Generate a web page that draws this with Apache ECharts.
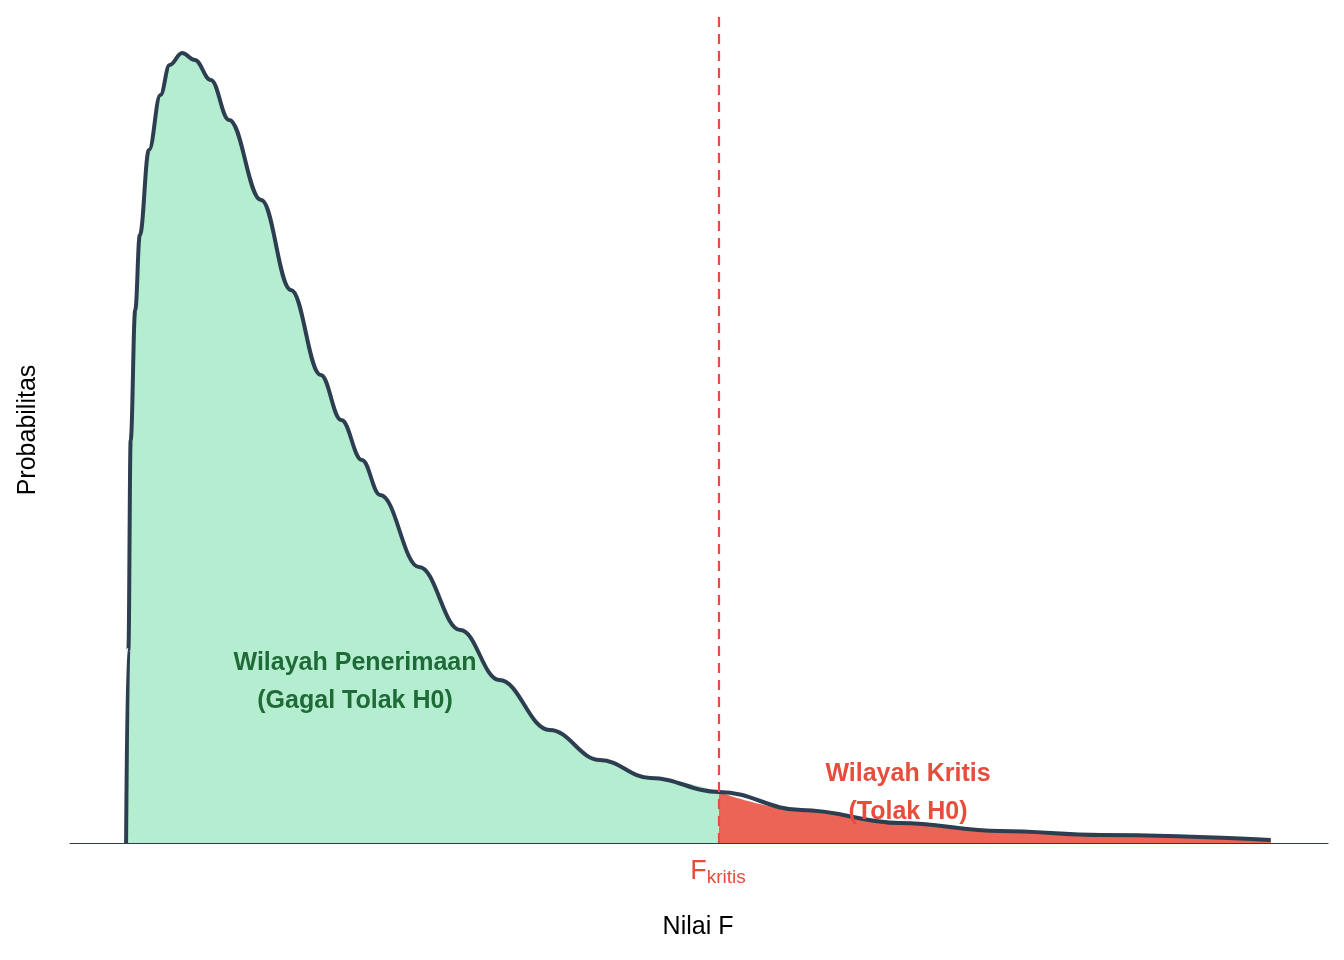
<!DOCTYPE html>
<html>
<head>
<meta charset="utf-8">
<title>Distribusi F</title>
<script src="https://cdn.jsdelivr.net/npm/echarts@6/dist/echarts.min.js"></script>
<style>
  html, body { margin: 0; padding: 0; background: #fff; }
  #chart { width: 1344px; height: 960px; }
</style>
</head>
<body>
<div id="chart"></div>
<script>
// nilai F dan kepadatan
var fValues = [0, 0.01, 0.02, 0.04, 0.06, 0.10, 0.15, 0.19, 0.245, 0.30, 0.37, 0.45, 0.59, 0.72, 0.85, 0.94, 1.03, 1.11, 1.28, 1.46, 1.63, 1.85, 2.07, 2.29, 2.59, 2.95, 3.38, 3.82, 4.26, 5.0];
var density = [0, 0.193, 0.403, 0.533, 0.608, 0.693, 0.748, 0.778, 0.790, 0.783, 0.763, 0.723, 0.643, 0.553, 0.468, 0.423, 0.383, 0.348, 0.276, 0.213, 0.163, 0.113, 0.083, 0.065, 0.051, 0.033, 0.020, 0.012, 0.008, 0.003];
var fKritis = 2.59;

var all = fValues.map(function (x, i) { return [x, density[i]]; });
var terima = all.filter(function (p) { return p[0] <= fKritis; });
var kritis = all.filter(function (p) { return p[0] >= fKritis; });

var chart = echarts.init(document.getElementById('chart'));
var font = 'Liberation Sans, Arial, sans-serif';

chart.setOption({
  animation: false,
  grid: { left: 70, right: 16, top: 15, bottom: 117 },
  xAxis: {
    type: 'value', min: -0.245, max: 5.25,
    axisLine: { show: true, lineStyle: { color: '#2C3E50', width: 1.2 } },
    axisTick: { show: false }, axisLabel: { show: false }, splitLine: { show: false }
  },
  yAxis: {
    type: 'value', min: 0, max: 0.828,
    axisLine: { show: false }, axisTick: { show: false }, axisLabel: { show: false }, splitLine: { show: false }
  },
  series: [
    {
      type: 'line', data: terima, smooth: 0.4, smoothMonotone: 'x', symbol: 'none',
      lineStyle: { width: 0 }, areaStyle: { color: '#B5EDD0', opacity: 1 }
    },
    {
      type: 'line', data: kritis, smooth: 0.4, smoothMonotone: 'x', symbol: 'none',
      lineStyle: { width: 0 }, areaStyle: { color: '#EB6456', opacity: 1 }
    },
    {
      type: 'line', data: all, smooth: 0.4, smoothMonotone: 'x', symbol: 'none',
      lineStyle: { color: '#2C3E50', width: 4 },
      markLine: {
        silent: true, symbol: 'none', label: { show: false },
        lineStyle: { color: '#E74C3C', type: [10, 7], width: 2.2 },
        data: [[{ coord: [fKritis, 0] }, { coord: [fKritis, 0.828] }]]
      }
    }
  ],
  graphic: [
    { type: 'text', z: 100, x: 698, y: 915, style: { text: 'Nilai F', align: 'center', font: '25px ' + font, fill: '#000' } },
    { type: 'text', z: 100, x: 16, y: 430, rotation: Math.PI / 2, style: { text: 'Probabilitas', font: '25px ' + font, fill: '#000', align: 'center', verticalAlign: 'top' } },
    { type: 'text', z: 100, x: 718, y: 856, style: {
        text: '{f|F}{s|kritis}', align: 'center',
        rich: { f: { font: '27px ' + font, fill: '#E74C3C' }, s: { font: '19px ' + font, fill: '#E74C3C', padding: [12, 0, 0, 0] } }
    } },
    { type: 'text', z: 100, x: 355, y: 644, style: { text: 'Wilayah Penerimaan\n(Gagal Tolak H0)', align: 'center', lineHeight: 38, font: 'bold 25px ' + font, fill: '#1E6B38' } },
    { type: 'text', z: 100, x: 908, y: 755, style: { text: 'Wilayah Kritis\n(Tolak H0)', align: 'center', lineHeight: 38, font: 'bold 25px ' + font, fill: '#E74C3C' } }
  ]
});
</script>
</body>
</html>
